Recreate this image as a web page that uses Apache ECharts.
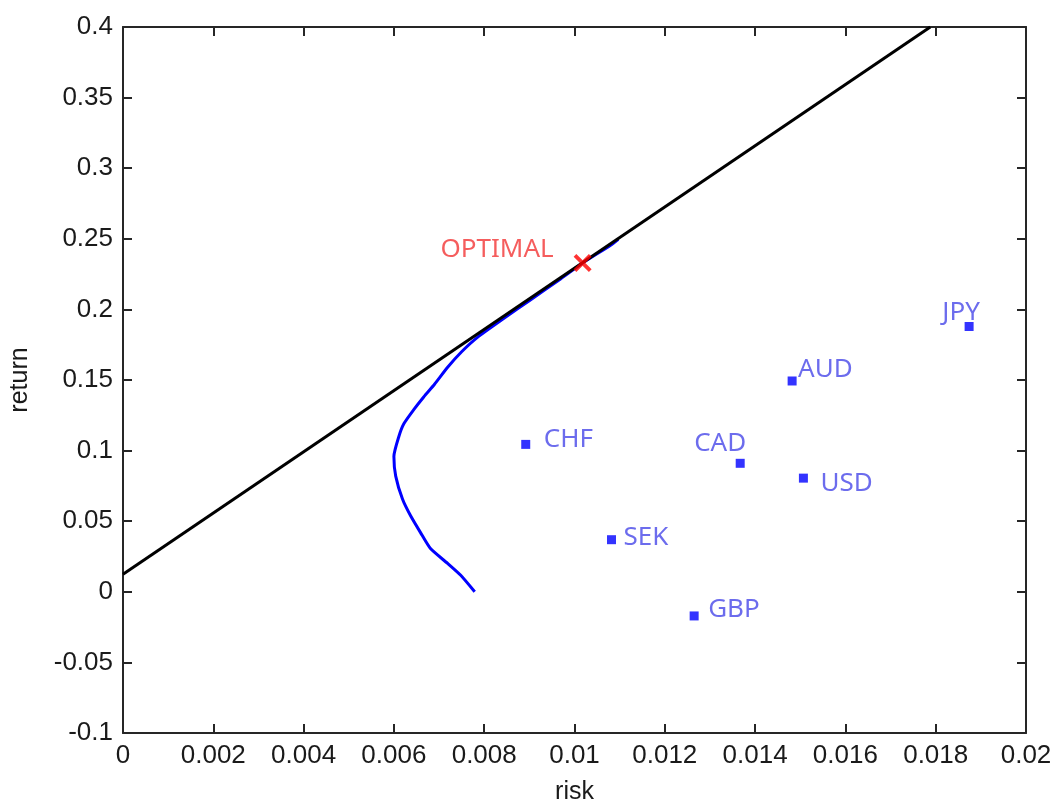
<!DOCTYPE html>
<html>
<head>
<meta charset="utf-8">
<script src="https://cdn.jsdelivr.net/npm/echarts@6/dist/echarts.min.js"></script>
<style>html,body{margin:0;padding:0;background:#fff;overflow:hidden;}#c{width:1059px;height:810px;}</style>
</head>
<body>
<div id="c"></div>
<script>
// Efficient frontier (risk, return)
const frontierRisk = [0.00779, 0.00748, 0.00719, 0.00681, 0.00659, 0.00637, 0.00619, 0.00604, 0.00600, 0.00611, 0.00622, 0.00644, 0.00666, 0.00690, 0.00719, 0.00750, 0.00785, 0.00843, 0.00903, 0.00969, 0.01018, 0.01080, 0.01097];
const frontierReturn = [0.0000, 0.0117, 0.0201, 0.0306, 0.0419, 0.0538, 0.0657, 0.0819, 0.0959, 0.1100, 0.1190, 0.1290, 0.1380, 0.1470, 0.1590, 0.1700, 0.1802, 0.1935, 0.2069, 0.2216, 0.2329, 0.2455, 0.2497];
// Capital market line
const cmlRisk = [0, 0.01788];
const cmlReturn = [0.0124, 0.4];
// Currencies
const currencies = ['CHF', 'CAD', 'USD', 'SEK', 'GBP', 'AUD', 'JPY'];
const currencyRisk = [0.00892, 0.01367, 0.01507, 0.01082, 0.01265, 0.01482, 0.01874];
const currencyReturn = [0.1044, 0.0910, 0.0805, 0.0369, -0.0171, 0.1493, 0.1879];
// Optimal portfolio
const optimalRisk = 0.01018;
const optimalReturn = 0.2329;
// Axes
const xMin = 0, xMax = 0.02, xStep = 0.002;
const yMin = -0.1, yMax = 0.4, yStep = 0.05;

const labelCfg = {
  CHF: {align: 'left', offset: [18, -5]},
  CAD: {align: 'center', offset: [-20, -20]},
  USD: {align: 'left', offset: [17, 5]},
  SEK: {align: 'left', offset: [12, -2]},
  GBP: {align: 'left', offset: [14, -6]},
  AUD: {align: 'left', offset: [6, -11]},
  JPY: {align: 'center', offset: [-8, -14]}
};

const axisLineStyle = {color: '#262626', width: 2};
const tickStyle = {show: true, inside: true, length: 9, lineStyle: {color: '#262626', width: 2}};
const labelFont = {fontFamily: 'Liberation Sans, Arial, sans-serif', fontSize: 26, color: '#1a1a1a'};
const nameFont = {fontFamily: 'Liberation Sans, Arial, sans-serif', fontSize: 25, color: '#1a1a1a'};

const chart = echarts.init(document.getElementById('c'), null, {renderer: 'canvas', width: 1059, height: 810});
chart.setOption({
  animation: false,
  backgroundColor: '#ffffff',
  grid: {left: 122, top: 27, right: 33, bottom: 71, containLabel: false},
  xAxis: [
    {type: 'value', min: xMin, max: xMax, interval: xStep, position: 'bottom',
     name: 'risk', nameLocation: 'middle', nameGap: 47, nameTextStyle: nameFont,
     axisLine: {show: true, onZero: false, lineStyle: axisLineStyle}, axisTick: tickStyle,
     axisLabel: Object.assign({margin: 10}, labelFont), splitLine: {show: false}},
    {type: 'value', min: xMin, max: xMax, interval: xStep, position: 'top',
     axisLine: {show: true, onZero: false, lineStyle: axisLineStyle}, axisTick: tickStyle,
     axisLabel: {show: false}, splitLine: {show: false}}
  ],
  yAxis: [
    {type: 'value', min: yMin, max: yMax, interval: yStep, position: 'left',
     name: 'return', nameLocation: 'middle', nameGap: 90, nameRotate: 90, nameTextStyle: nameFont,
     axisLine: {show: true, onZero: false, lineStyle: axisLineStyle}, axisTick: tickStyle,
     axisLabel: Object.assign({margin: 10}, labelFont), splitLine: {show: false}},
    {type: 'value', min: yMin, max: yMax, interval: yStep, position: 'right',
     axisLine: {show: true, onZero: false, lineStyle: axisLineStyle}, axisTick: tickStyle,
     axisLabel: {show: false}, splitLine: {show: false}}
  ],
  series: [
    {type: 'line', name: 'CML', data: cmlRisk.map((x, i) => [x, cmlReturn[i]]),
     showSymbol: false, symbol: 'none', lineStyle: {color: '#000000', width: 3}, z: 3, clip: true},
    {type: 'line', name: 'frontier', data: frontierRisk.map((x, i) => [x, frontierReturn[i]]),
     showSymbol: false, symbol: 'none', smooth: 0.2, lineStyle: {color: '#0000ff', width: 3}, z: 2},
    {type: 'scatter', name: 'currencies', symbol: 'rect', symbolSize: 9,
     itemStyle: {color: '#0000ff'}, z: 4,
     data: currencies.map((c, i) => ({
       value: [currencyRisk[i], currencyReturn[i]], name: c,
       label: {show: true, position: 'inside', formatter: c, align: labelCfg[c].align, verticalAlign: 'middle',
               offset: labelCfg[c].offset, color: '#4747e8', fontFamily: 'Noto Sans, Open Sans, sans-serif', fontSize: 26}
     }))},
    {type: 'scatter', name: 'optimal', z: 5,
     symbol: 'path://M0,3 L3,0 L10,7 L17,0 L20,3 L13,10 L20,17 L17,20 L10,13 L3,20 L0,17 L7,10 Z',
     symbolSize: 18, itemStyle: {color: '#ff0000'},
     data: [{value: [optimalRisk, optimalReturn],
       label: {show: true, position: 'inside', formatter: 'OPTIMAL', align: 'right', verticalAlign: 'middle',
               offset: [-29, -13], color: '#f23535', fontFamily: 'Noto Sans, Open Sans, sans-serif', fontSize: 26}}]}
  ]
});
</script>
</body>
</html>
